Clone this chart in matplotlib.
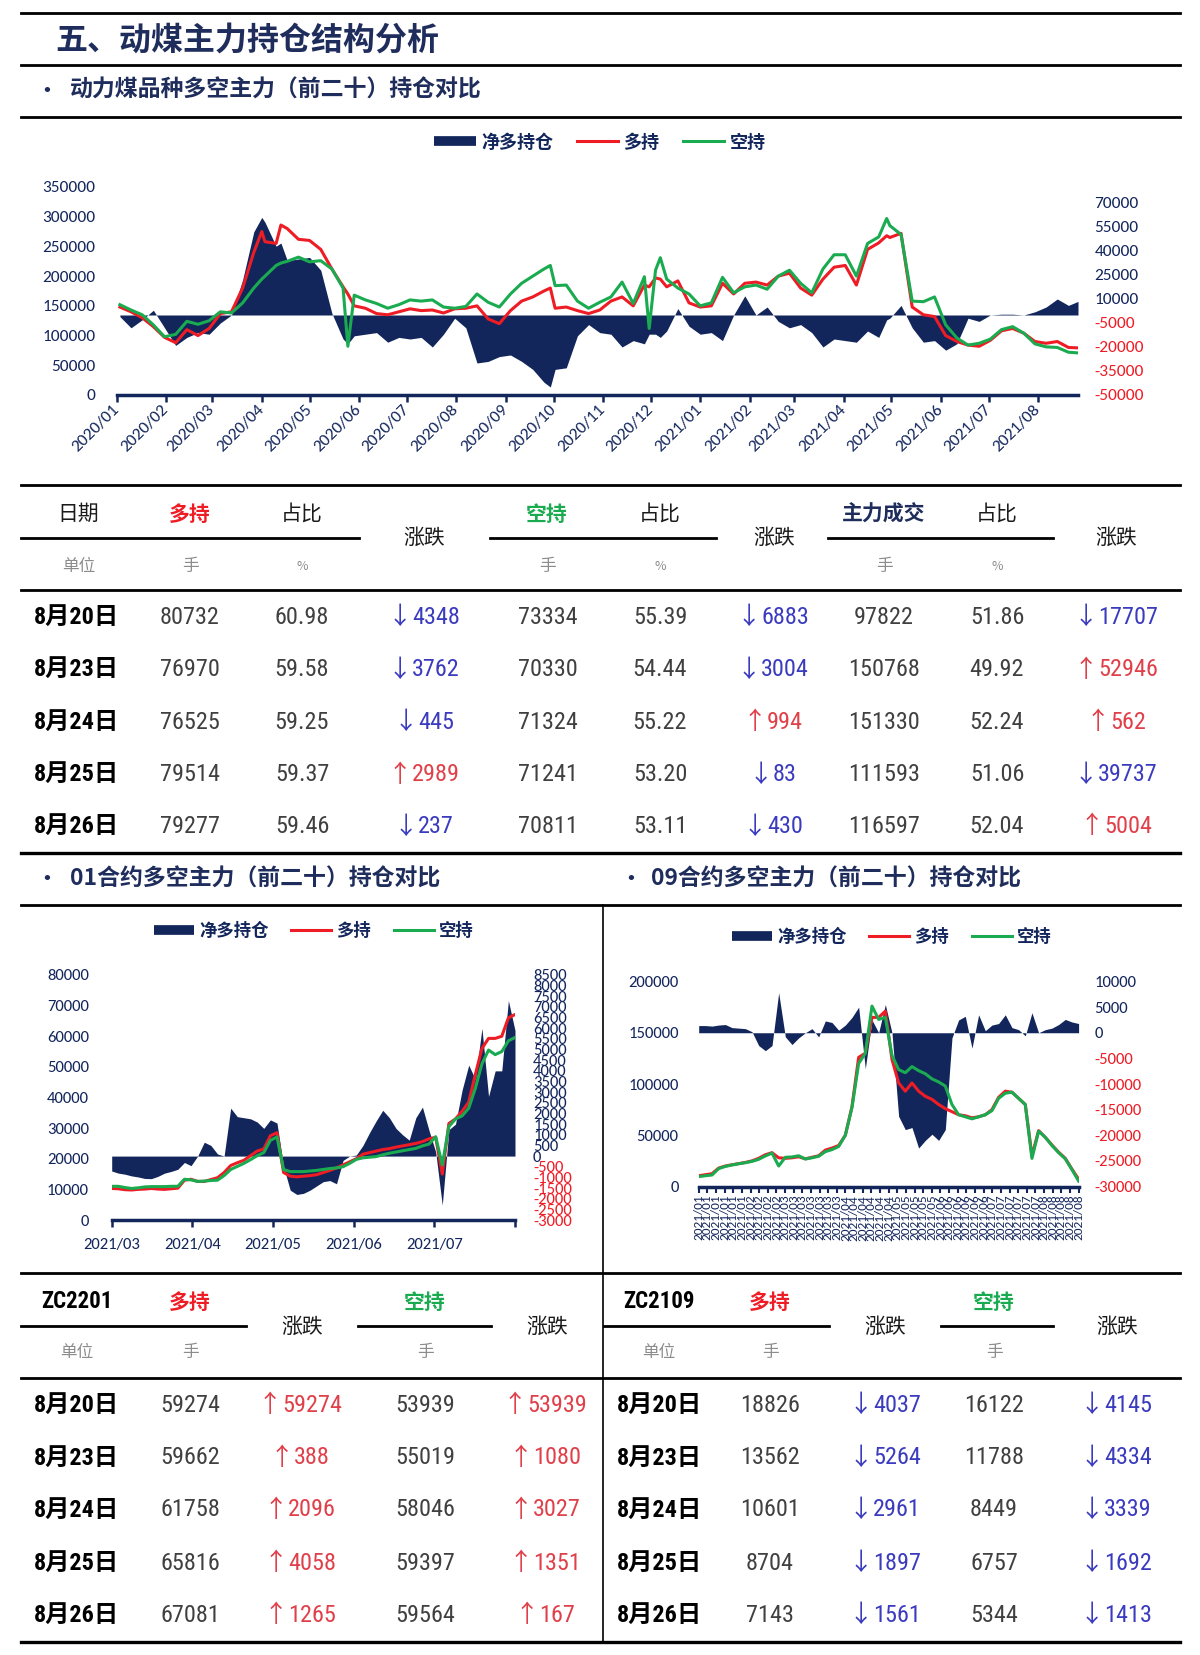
import matplotlib
matplotlib.use("Agg")
import matplotlib.pyplot as plt
from matplotlib.lines import Line2D
import numpy as np
import pandas as pd

# ---------------- data: all-contract chart (weekly samples, values in thousand lots) ----------------
week_start = "2020-01-03"
week_long_k = [148, 140, 130, 115, 97, 88, 110, 100, 112, 137,
               140, 180, 240, 258, 255, 280, 262, 260, 245, 212,
               182, 150, 146, 137, 135, 140, 145, 142, 143, 138,
               145, 146, 150, 128, 120, 142, 158, 165, 175, 146,
               148, 142, 137, 143, 158, 165, 150, 185, 197, 182,
               192, 155, 148, 150, 188, 170, 188, 190, 185, 200,
               205, 180, 168, 195, 215, 218, 185, 245, 256, 265,
               272, 148, 135, 132, 100, 90, 84, 82, 92, 108,
               112, 104, 90, 87, 90, 80]
week_short_k = [152, 143, 135, 118, 98, 102, 124, 119, 125, 140,
                138, 155, 180, 200, 218, 225, 232, 224, 226, 212,
                180, 168, 160, 154, 146, 152, 160, 158, 160, 148,
                146, 149, 170, 156, 148, 170, 188, 200, 212, 184,
                185, 158, 146, 156, 165, 190, 154, 199, 210, 195,
                180, 170, 150, 155, 198, 172, 182, 185, 178, 200,
                210, 188, 172, 212, 236, 236, 200, 255, 266, 285,
                270, 158, 157, 165, 118, 96, 84, 87, 94, 110,
                115, 104, 86, 81, 80, 72]
week_net_k = [-1, -8, -3, 3, -8, -19, -14, -11, -12, -5,
              0, 22, 52, 58, 43, 34, 35, 36, 28, 1,
              -15, -13, -12, -11, -17, -14, -15, -14, -20, -12,
              -2, -8, -30, -29, -26, -25, -29, -34, -42, -34,
              -33, -13, -6, -11, -12, -20, -16, -18, -12, -10,
              4, -7, -12, -11, -16, 0, 12, 0, 5, -4,
              -8, -6, -11, -20, -15, -16, -17, -10, -14, -2,
              6, -8, -17, -16, -22, -18, -2, -4, 0, 0.5,
              0.5, 0, 2, 5, 10, 6]
# single days with spikes that weekly sampling would miss
spike_dates = ["2020-04-01", "2020-04-13", "2020-05-25", "2020-09-29",
               "2020-11-30", "2020-12-07", "2021-04-28", "2021-08-26"]
spike_long_k = [275, 286, 170, 180, 182, 195, 268, 79.3]
spike_short_k = [195, 222, 82, 218, 112, 231, 297, 70.8]
spike_net_k = [61, 45, -18, -45, -12, -14, -3, 8.5]

# ---------------- data: ZC2201 chart ----------------
zc2201_ticks = ["2021/03", "2021/04", "2021/05", "2021/06", "2021/07", ""]
zc2201_long_k = [10.3, 10.2, 9.9, 9.8, 10.0, 10.1, 10.3, 10.1, 10.0, 10.2,
                 10.4, 13.0, 13.3, 12.6, 12.6, 13.2, 13.8, 15.5, 17.8, 18.7,
                 19.5, 21.0, 22.5, 23.2, 27.5, 28.5, 15.5, 14.3, 14.1, 14.3,
                 14.5, 14.8, 15.5, 16.2, 17.0, 18.0, 19.0, 20.0, 21.5, 22.0,
                 22.5, 23.0, 23.3, 23.8, 24.2, 24.6, 25.0, 25.6, 26.5, 27.0,
                 15.0, 31.5, 33.0, 35.5, 38.5, 47.5, 56.0, 59.3, 59.3, 60.0,
                 66.0, 67.1]
zc2201_short_k = [11.0, 11.0, 10.6, 10.3, 10.5, 10.8, 10.9, 10.9, 10.9, 11.0,
                  11.0, 13.3, 13.1, 12.6, 12.7, 12.9, 13.0, 14.5, 16.5, 17.5,
                  18.5, 19.7, 21.0, 22.0, 26.0, 27.1, 16.5, 15.8, 15.8, 15.8,
                  16.0, 16.2, 16.5, 16.8, 17.0, 17.4, 18.5, 19.8, 20.3, 20.5,
                  20.7, 21.3, 21.8, 22.2, 22.6, 23.0, 23.4, 24.2, 24.8, 27.2,
                  18.0, 30.5, 33.0, 34.0, 36.5, 43.0, 51.0, 55.5, 54.0, 55.0,
                  58.5, 59.6]
zc2201_net = [-700, -800, -850, -930, -980, -1050, -1060, -950, -800, -720,
              -620, -300, -450, 0, 650, 500, 100, 0, 2250, 1850,
              1800, 1750, 1600, 1300, 1700, 1550, -500, -1600, -1800, -1750,
              -1600, -1400, -1200, -1150, -1300, -200, 0, 50, 500, 1100,
              1650, 2150, 1800, 1300, 1000, 750, 1800, 2300, 1200, 200,
              -2300, 1240, 1500, 3100, 4270, 3600, 6000, 2800, 4000, 4000,
              7300, 5900]

# ---------------- data: ZC2109 chart ----------------
zc2109_month_counts = [("2021/01", 6), ("2021/02", 4), ("2021/03", 7), ("2021/04", 6),
                       ("2021/05", 5), ("2021/06", 6), ("2021/07", 6), ("2021/08", 5)]
zc2109_long_k = [10.5, 11.5, 12.5, 18.0, 20.0, 21.2, 22.3, 23.5, 25.0, 27.5,
                 31.0, 33.0, 28.0, 27.5, 28.0, 29.0, 27.0, 28.5, 30.0, 35.5,
                 37.5, 40.0, 50.0, 78.0, 126.0, 130.0, 165.0, 165.0, 171.0, 124.0,
                 101.0, 93.0, 101.0, 93.0, 88.0, 85.0, 80.0, 76.0, 73.0, 70.0,
                 69.0, 67.0, 68.0, 70.0, 75.0, 87.0, 93.0, 92.0, 86.0, 80.0,
                 30.0, 54.5, 48.0, 40.5, 33.5, 27.5, 17.0, 7.1]
zc2109_short_k = [9.6, 10.5, 11.2, 17.5, 19.6, 21.0, 22.2, 23.2, 24.5, 26.5,
                  29.8, 32.6, 20.0, 28.5, 28.8, 30.0, 26.8, 28.0, 29.5, 34.0,
                  36.0, 39.0, 50.0, 77.0, 120.0, 130.0, 176.0, 163.0, 165.0, 128.0,
                  114.0, 111.0, 117.0, 113.0, 110.0, 105.0, 102.0, 98.0, 80.0, 70.0,
                  68.0, 66.0, 68.0, 70.0, 74.0, 86.0, 91.0, 92.0, 86.0, 80.0,
                  27.4, 54.0, 48.0, 40.0, 33.0, 27.0, 16.5, 5.3]
zc2109_net = [1400, 1400, 1300, 1500, 1600, 1000, 900, 800, 200, -2500,
              -3500, -2500, 7800, -800, -2300, -1000, 0, 800, -800, 2300,
              2000, 500, 1500, 3000, 5000, -7000, 2500, 0, 5500, 0,
              -16300, -18900, -18500, -22500, -21000, -19800, -21000, -18900, -1000, 2500,
              3200, -3000, 3500, 400, 1500, 1800, 3500, 1000, 600, -600,
              3900, 0, 600, 900, 1600, 2600, 2100, 1800]

# ---------------- data: tables ----------------
table_days = ["8月20日", "8月23日", "8月24日", "8月25日", "8月26日"]
all_long = [80732, 76970, 76525, 79514, 79277]
all_long_pct = ["60.98", "59.58", "59.25", "59.37", "59.46"]
all_long_chg = [-4348, -3762, -445, 2989, -237]
all_short = [73334, 70330, 71324, 71241, 70811]
all_short_pct = ["55.39", "54.44", "55.22", "53.20", "53.11"]
all_short_chg = [-6883, -3004, 994, -83, -430]
all_deal = [97822, 150768, 151330, 111593, 116597]
all_deal_pct = ["51.86", "49.92", "52.24", "51.06", "52.04"]
all_deal_chg = [-17707, 52946, 562, -39737, 5004]

zc2201_tab_long = [59274, 59662, 61758, 65816, 67081]
zc2201_tab_long_chg = [59274, 388, 2096, 4058, 1265]
zc2201_tab_short = [53939, 55019, 58046, 59397, 59564]
zc2201_tab_short_chg = [53939, 1080, 3027, 1351, 167]

zc2109_tab_long = [18826, 13562, 10601, 8704, 7143]
zc2109_tab_long_chg = [-4037, -5264, -2961, -1897, -1561]
zc2109_tab_short = [16122, 11788, 8449, 6757, 5344]
zc2109_tab_short_chg = [-4145, -4334, -3339, -1692, -1413]

# ---------------- style ----------------
W, H = 1200, 1655
NAVY = "#13265c"
TITLE = "#1f2d5c"
RED = "#ee1c25"
GREEN = "#1aab50"
TXT = "#1a1a1a"
NUM = "#404040"
UP = "#e0404a"
DOWN = "#3b3bbf"
GREY = "#8c8c8c"

plt.rcParams["axes.unicode_minus"] = False
CJK = ["Noto Sans CJK SC", "DejaVu Sans"]
NARROW = ["Liberation Sans Narrow", "Roboto Condensed", "Archivo Narrow",
          "Noto Sans CJK SC", "DejaVu Sans"]
TICK = ["Carlito", "Lato", "Noto Sans CJK SC", "DejaVu Sans"]

fig = plt.figure(figsize=(W / 100, H / 100), dpi=100)
renderer = fig.canvas.get_renderer()


def txt(x, y, s, size, color=TXT, weight="normal", family=CJK, ha="center"):
    return fig.text(x / W, 1 - y / H, s, fontsize=size, color=color, fontweight=weight,
                    family=family, ha=ha, va="center")


def rule(y, x0=21, x1=1180, lw=2.0):
    fig.add_artist(Line2D([x0 / W, x1 / W], [1 - y / H, 1 - y / H], color="black", lw=lw))


def chg(x, y, v, size=17.5):
    # number in the narrow face, thin CJK arrow just before it
    color = UP if v > 0 else DOWN
    t = txt(x + 6, y, str(abs(v)), size, color=color, family=NARROW)
    left = t.get_window_extent(renderer).x0
    fig.text(left / W, 1 - y / H, "↑" if v > 0 else "↓", fontsize=size, color=color,
             family=CJK, ha="right", va="center")


def make_axes(x0, y0, x1, y1):
    ax = fig.add_axes([x0 / W, 1 - y1 / H, (x1 - x0) / W, (y1 - y0) / H])
    ax2 = ax.twinx()
    ax.set_zorder(ax2.get_zorder() + 1)
    ax.patch.set_visible(False)
    return ax, ax2


def style(ax, ax2, lticks, llim, rticks, rlim, size, lpad, rpad):
    ax.set_ylim(*llim)
    ax.set_yticks(lticks)
    ax.set_yticklabels([str(v) for v in lticks], family=TICK, fontsize=size, color=NAVY)
    ax2.set_ylim(*rlim)
    ax2.set_yticks(rticks)
    ax2.set_yticklabels([str(v) for v in rticks], family=TICK, fontsize=size)
    for lab, v in zip(ax2.get_yticklabels(), rticks):
        lab.set_color(NAVY if v >= 0 else RED)
    ax.tick_params(axis="y", length=0, pad=lpad)
    ax2.tick_params(axis="y", length=0, pad=rpad)
    for a in (ax, ax2):
        for s in a.spines.values():
            s.set_visible(False)
    ax.spines["bottom"].set_visible(True)
    ax.spines["bottom"].set_color(NAVY)
    ax.spines["bottom"].set_linewidth(2.5)
    ax.tick_params(axis="x", colors=NAVY, length=5, width=1.8)


def legend(cx, cy, size):
    handles = [Line2D([], [], color=NAVY, lw=7, solid_capstyle="butt"),
               Line2D([], [], color=RED, lw=2.2),
               Line2D([], [], color=GREEN, lw=2.2)]
    fig.legend(handles, ["净多持仓", "多持", "空持"], loc="center",
               bbox_to_anchor=(cx / W, 1 - cy / H), ncol=3, frameon=False,
               handlelength=2.3, handletextpad=0.3, columnspacing=1.3,
               prop={"family": CJK, "size": size, "weight": "bold"}, labelcolor=NAVY)


# ---------------- headers ----------------
rule(13, lw=2.0)
txt(55, 41, "五、动煤主力持仓结构分析", 23, color=TITLE, weight="bold", ha="left")
rule(65, lw=2.0)
txt(47, 90, "•", 15, color=TITLE, weight="bold")
txt(70, 90, "动力煤品种多空主力（前二十）持仓对比", 16.5, color=TITLE, weight="bold", ha="left")
rule(117, lw=2.0)

# ---------------- top chart ----------------
top = pd.DataFrame({
    "date": list(pd.date_range(week_start, periods=len(week_long_k), freq="7D")) + list(pd.to_datetime(spike_dates)),
    "long": week_long_k + spike_long_k,
    "short": week_short_k + spike_short_k,
    "net": week_net_k + spike_net_k,
}).sort_values("date")

ax, ax2 = make_axes(116.7, 187, 1078, 395)
ax2.fill_between(top["date"], 0, top["net"] * 1000, color=NAVY, lw=0)
ax.plot(top["date"], top["long"] * 1000, color=RED, lw=2.2)
ax.plot(top["date"], top["short"] * 1000, color=GREEN, lw=2.2)
ax.set_xlim(pd.Timestamp("2020-01-01"), pd.Timestamp("2021-08-26"))
style(ax, ax2, list(range(0, 350001, 50000)), (0, 350000),
      list(range(-50000, 70001, 15000)), (-50000, 80000), 12.5, 15.5, 12)
months = pd.date_range("2020-01-01", "2021-08-01", freq="MS")
ax.set_xticks(months)
ax.set_xticklabels([m.strftime("%Y/%m") for m in months], rotation=45, ha="right",
                   va="center", rotation_mode="anchor", family=TICK, fontsize=12.5)
ax.tick_params(axis="x", pad=4)
legend(600, 142, 13)

# ---------------- top table ----------------
rule(485)
for s, x, col, w in [("日期", 78.5, TXT, "medium"), ("多持", 190, RED, "bold"), ("占比", 302, TXT, "medium"),
                     ("空持", 547, GREEN, "bold"), ("占比", 660, TXT, "medium"),
                     ("主力成交", 884, TITLE, "bold"), ("占比", 997, TXT, "medium")]:
    txt(x, 514, s, 15, color=col, weight=w)
for x in [424, 774, 1116]:
    txt(x, 538, "涨跌", 15, weight="medium")
rule(538, 21, 359)
rule(538, 490, 716)
rule(538, 828, 1053)
for s, x, size in [("单位", 78.5, 12), ("手", 190, 12), ("%", 302, 9), ("手", 547, 12),
                   ("%", 660, 9), ("手", 884, 12), ("%", 997, 9)]:
    txt(x, 566, s, size, color=GREY)
rule(590)
rows_top = [617, 669.5, 722, 774.5, 826.5]
for i, y in enumerate(rows_top):
    txt(76.5, y, table_days[i], 17.5, color="black", weight="bold", family=NARROW)
    txt(190, y, str(all_long[i]), 17.5, color=NUM, family=NARROW)
    txt(302, y, all_long_pct[i], 17.5, color=NUM, family=NARROW)
    txt(548, y, str(all_short[i]), 17.5, color=NUM, family=NARROW)
    txt(660, y, all_short_pct[i], 17.5, color=NUM, family=NARROW)
    txt(884, y, str(all_deal[i]), 17.5, color=NUM, family=NARROW)
    txt(997, y, all_deal_pct[i], 17.5, color=NUM, family=NARROW)
    chg(430, y, all_long_chg[i])
    chg(779, y, all_short_chg[i])
    chg(1122, y, all_deal_chg[i])
rule(853, lw=2.4)

# ---------------- section headers ----------------
txt(47, 879, "•", 15, color=TITLE, weight="bold")
txt(70, 879, "01合约多空主力（前二十）持仓对比", 16.5, color=TITLE, weight="bold", ha="left")
txt(631, 879, "•", 15, color=TITLE, weight="bold")
txt(651, 879, "09合约多空主力（前二十）持仓对比", 16.5, color=TITLE, weight="bold", ha="left")
rule(904.5)
fig.add_artist(Line2D([603 / W, 603 / W], [1 - 904.5 / H, 1 - 1641.7 / H], color="black", lw=1.2))

# ---------------- ZC2201 chart ----------------
x1 = np.arange(len(zc2201_long_k))
ax, ax2 = make_axes(111.7, 975, 515, 1220)
ax2.fill_between(x1, 0, zc2201_net, color=NAVY, lw=0)
ax.plot(x1, np.array(zc2201_long_k) * 1000, color=RED, lw=2.2)
ax.plot(x1, np.array(zc2201_short_k) * 1000, color=GREEN, lw=2.2)
ax.set_xlim(0, len(x1) - 1)
style(ax, ax2, list(range(0, 80001, 10000)), (0, 80000),
      list(range(-3000, 8501, 500)), (-3000, 8500), 12, 16.5, 13)
ax.set_xticks(np.linspace(0, len(x1) - 1, len(zc2201_ticks)))
ax.set_xticklabels(zc2201_ticks, family=TICK, fontsize=12)
ax.tick_params(axis="x", pad=8)
legend(314, 931, 12.5)

# ---------------- ZC2109 chart ----------------
x2 = np.arange(len(zc2109_long_k))
ax, ax2 = make_axes(698.7, 981.5, 1078.6, 1186.5)
ax2.fill_between(x2, 0, zc2109_net, color=NAVY, lw=0)
ax.plot(x2, np.array(zc2109_long_k) * 1000, color=RED, lw=2.2)
ax.plot(x2, np.array(zc2109_short_k) * 1000, color=GREEN, lw=2.2)
ax.set_xlim(0, len(x2) - 1)
style(ax, ax2, list(range(0, 200001, 50000)), (0, 200000),
      list(range(-30000, 10001, 5000)), (-30000, 10000), 12, 14.5, 11.5)
labels_2109 = [m for m, n in zc2109_month_counts for _ in range(n)]
ax.set_xticks(np.linspace(0, len(x2) - 1, len(labels_2109)))
ax.set_xticklabels(labels_2109, rotation=90, family=TICK, fontsize=9.5)
ax.tick_params(axis="x", pad=2, length=4, width=1.5)
legend(892, 937, 12.5)

# ---------------- bottom tables ----------------
rule(1273)
for base, code in [(0, "ZC2201"), (1, "ZC2109")]:
    if base == 0:
        cx = dict(date=76.5, long=190, lchg=306, short=425, schg=551, hl=302, hs=547)
        r1, r2 = (21, 246), (358, 491)
        longs, lchg, shorts, schg = zc2201_tab_long, zc2201_tab_long_chg, zc2201_tab_short, zc2201_tab_short_chg
    else:
        cx = dict(date=659, long=770, lchg=891, short=994, schg=1122, hl=885, hs=1117)
        r1, r2 = (604, 828.5), (940.6, 1052.7)
        longs, lchg, shorts, schg = zc2109_tab_long, zc2109_tab_long_chg, zc2109_tab_short, zc2109_tab_short_chg
    txt(cx["date"], 1302, code, 16.5, color="black", weight="bold", family=NARROW)
    txt(cx["long"], 1302, "多持", 15, color=RED, weight="bold")
    txt(cx["short"], 1302, "空持", 15, color=GREEN, weight="bold")
    txt(cx["hl"], 1327, "涨跌", 15, weight="medium")
    txt(cx["hs"], 1327, "涨跌", 15, weight="medium")
    rule(1326, *r1)
    rule(1326, *r2)
    txt(cx["date"], 1353, "单位", 12, color=GREY)
    txt(cx["long"], 1353, "手", 12, color=GREY)
    txt(cx["short"], 1353, "手", 12, color=GREY)
    for i, y in enumerate([1405, 1458, 1510, 1563, 1615]):
        txt(cx["date"], y, table_days[i], 17.5, color="black", weight="bold", family=NARROW)
        txt(cx["long"], y, str(longs[i]), 17.5, color=NUM, family=NARROW)
        txt(cx["short"], y, str(shorts[i]), 17.5, color=NUM, family=NARROW)
        chg(cx["lchg"], y, lchg[i])
        chg(cx["schg"], y, schg[i])
rule(1378)
rule(1641.7, lw=2.4)

fig.savefig("out.png", dpi=100, facecolor="white")
